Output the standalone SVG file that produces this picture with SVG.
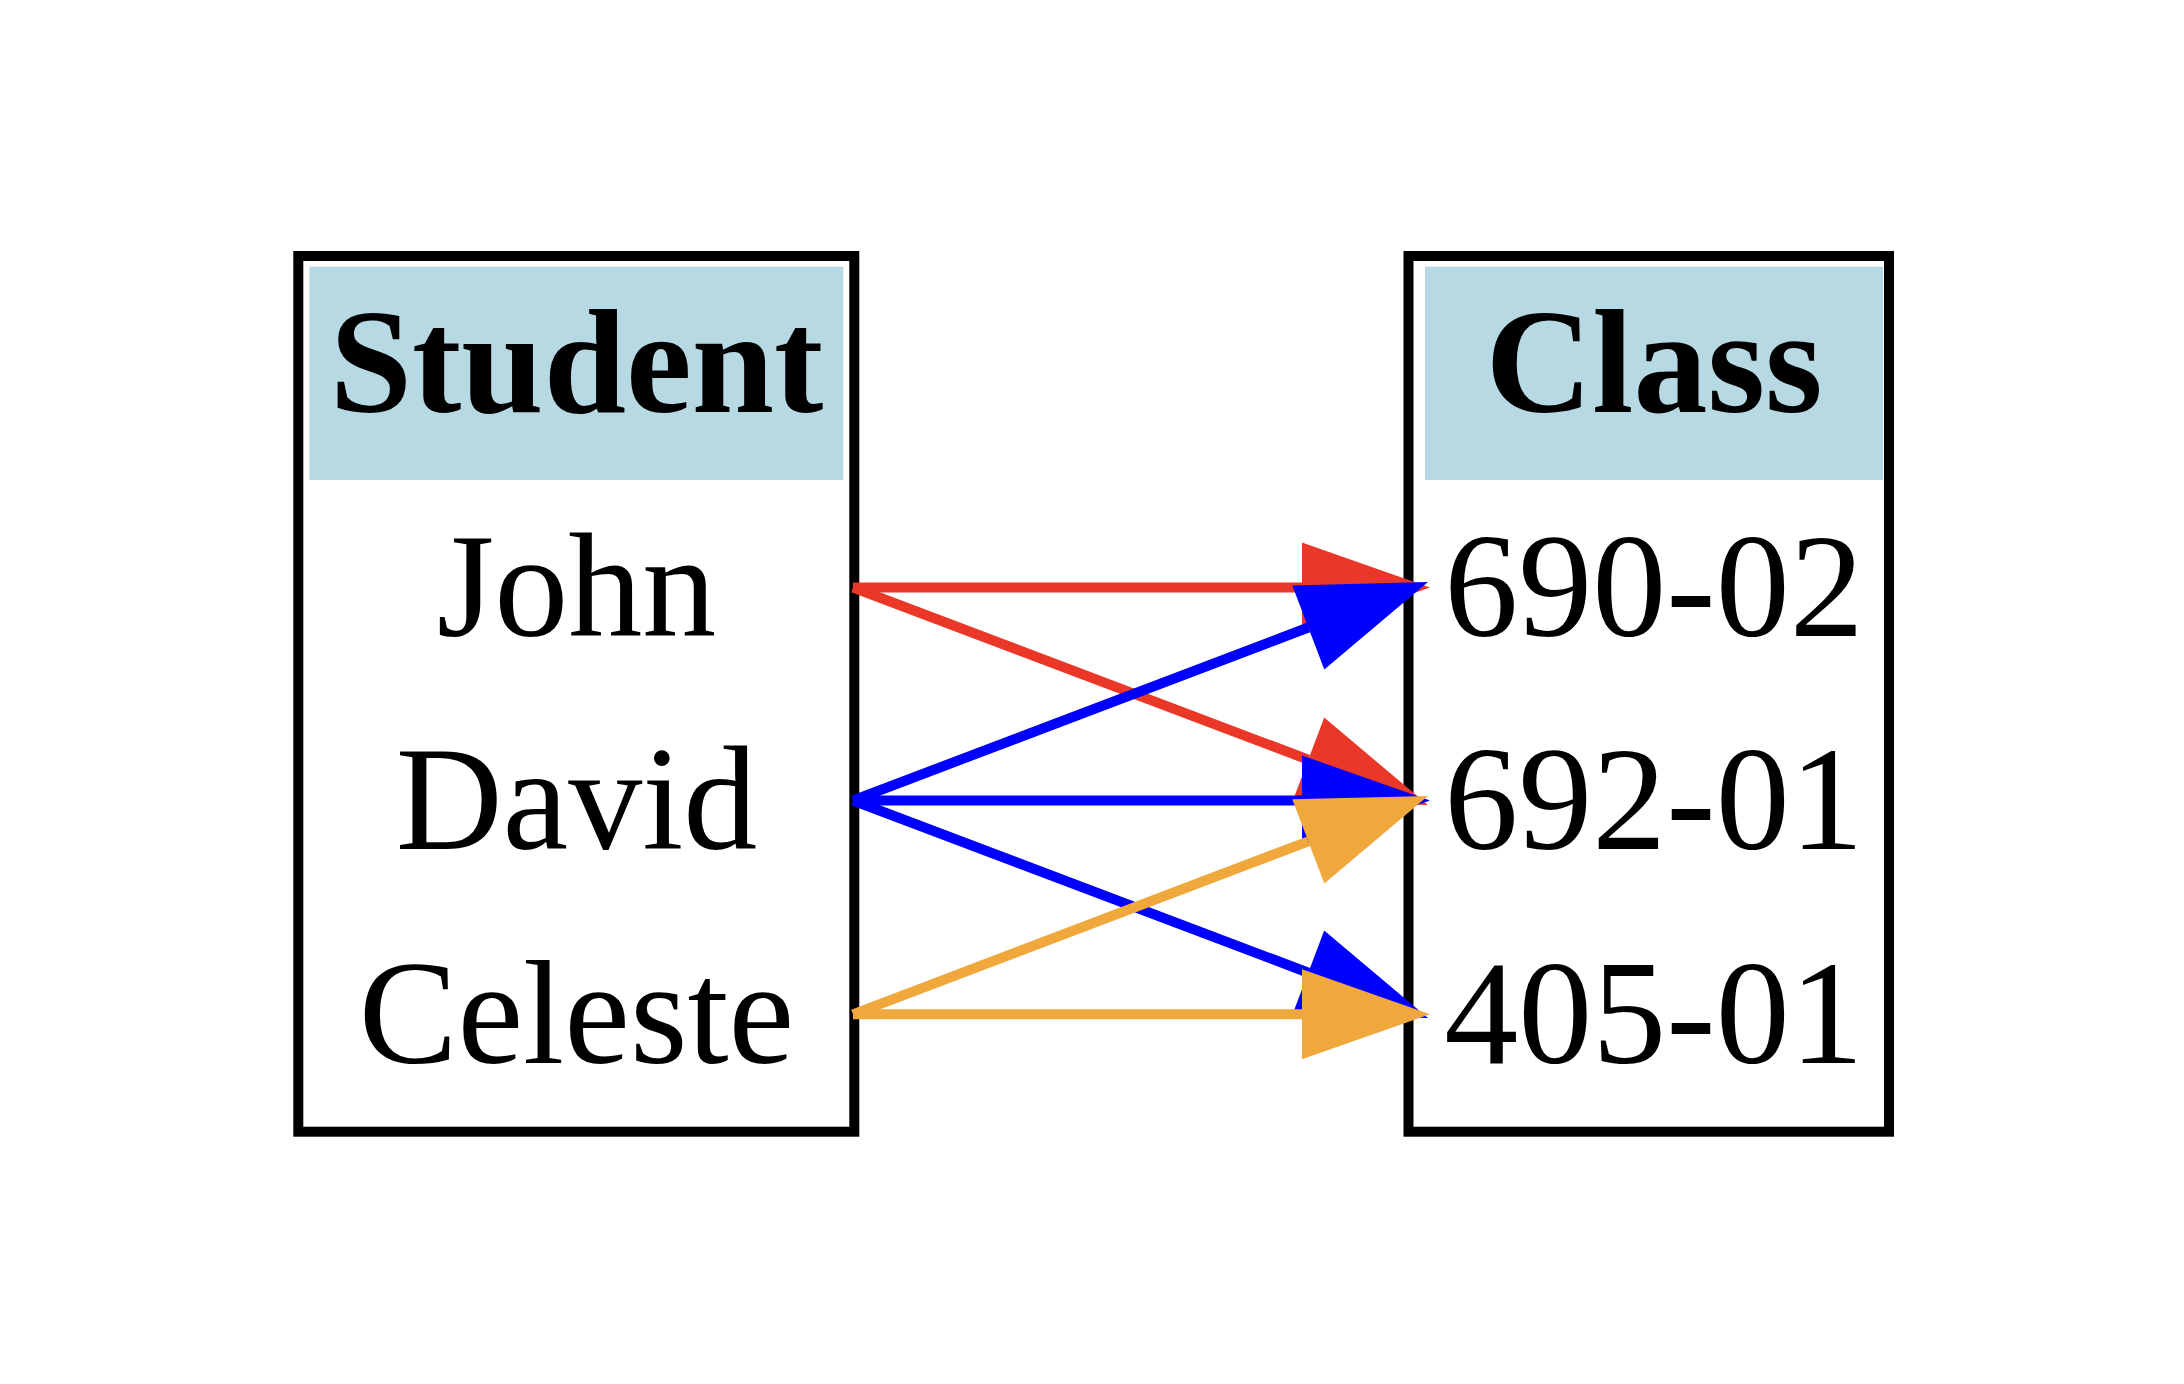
<svg xmlns="http://www.w3.org/2000/svg" width="2184" height="1384" viewBox="0 0 2184 1384">
<style>
.box{fill:none;stroke:#000;stroke-width:10}
.hdr{fill:#b7d9e4}
.t{font-family:"Liberation Serif","Times New Roman",serif;font-size:148px;fill:#000;text-anchor:middle}
.b{font-weight:bold}
.red{stroke:#ea3728;fill:#ea3728}
.blue{stroke:#0000ff;fill:#0000ff}
.orange{stroke:#f0a83c;fill:#f0a83c}
line{stroke-width:10;stroke-linecap:butt}
polygon{stroke:none}
</style>
<rect width="2184" height="1384" fill="#fff"/>
<g id="student">
<rect class="hdr" x="309.5" y="266.7" width="533.8" height="213.3"/>
<rect class="box" x="298.3" y="256" width="556" height="875.7"/>
<text class="t b" x="576.5" y="411.5">Student</text>
<text class="t" x="576.5" y="635.5">John</text>
<text class="t" x="576.5" y="849">David</text>
<text class="t" x="576.5" y="1062.5">Celeste</text>
</g>
<g id="class">
<rect class="hdr" x="1425" y="266.7" width="458" height="213.3"/>
<rect class="box" x="1408.5" y="256" width="480.5" height="875.7"/>
<text class="t b" x="1654" y="411.5">Class</text>
<text class="t" x="1654" y="635.5">690-02</text>
<text class="t" x="1654" y="849">692-01</text>
<text class="t" x="1654" y="1062.5">405-01</text>
</g>
<g id="edges">
<g class="red">
<line x1="853" y1="587.5" x2="1302" y2="587.5"/>
<polygon points="1302,542.5 1430,587.5 1302,632.5"/>
<line x1="853" y1="587.5" x2="1308.3" y2="759.7"/>
<polygon points="1292.4,801.8 1428,805 1324.2,717.6"/>
</g>
<g class="blue">
<line x1="853" y1="800.5" x2="1308.3" y2="627.5"/>
<polygon points="1324.3,669.6 1428,582 1292.3,585.4"/>
<line x1="853" y1="800.5" x2="1302" y2="800.5"/>
<polygon points="1302,755.5 1430,800.5 1302,845.5"/>
<line x1="853" y1="800.5" x2="1308.3" y2="972.7"/>
<polygon points="1292.4,1014.8 1428,1018 1324.2,930.6"/>
</g>
<g class="orange">
<line x1="853" y1="1014.3" x2="1308.3" y2="841.4"/>
<polygon points="1324.3,883.5 1428,796 1292.3,799.3"/>
<line x1="853" y1="1014.3" x2="1302" y2="1014.3"/>
<polygon points="1302,969.3 1430,1014.3 1302,1059.3"/>
</g>
</g>
</svg>
